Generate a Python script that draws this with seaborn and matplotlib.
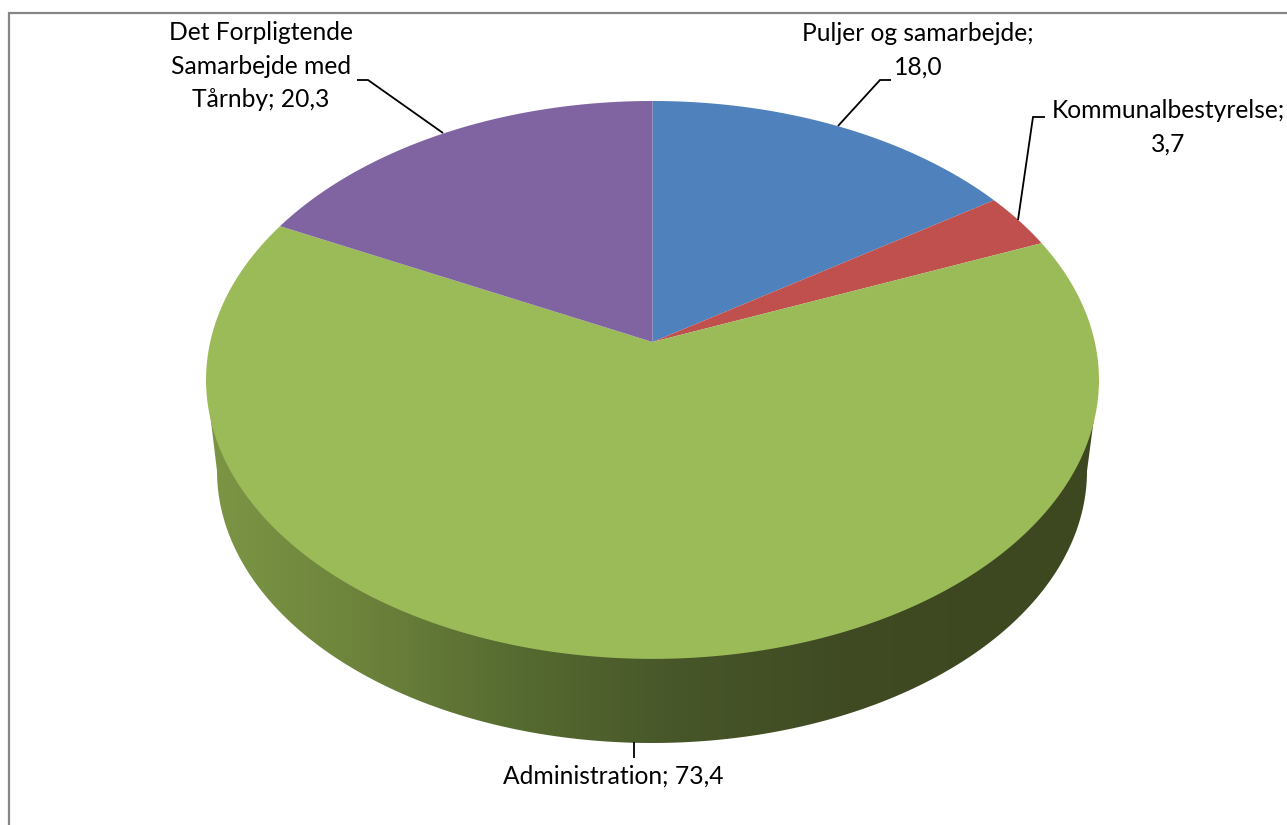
import numpy as np
import matplotlib
matplotlib.use("Agg")
import matplotlib.pyplot as plt
import seaborn as sns
from matplotlib.colors import LinearSegmentedColormap
from matplotlib.patches import PathPatch
from matplotlib.path import Path
from matplotlib.transforms import Transform, Affine2D

categories = ["Puljer og samarbejde", "Kommunalbestyrelse", "Administration", "Det Forpligtende Samarbejde med Tårnby"]
values = [18.0, 3.7, 73.4, 20.3]
value_labels = ["18,0", "3,7", "73,4", "20,3"]
colors = ["#4F81BD", "#C0504D", "#9BBB59", "#8064A2"]
side_stops = [(0.0, "#7C9645"), (0.18, "#6C823B"), (0.355, "#556A30"), (0.53, "#475629"),
              (0.71, "#404B23"), (0.89, "#3D4820"), (1.0, "#3D4820")]

sns.set_theme(style="white")
plt.rcParams["font.family"] = ["Lato", "DejaVu Sans"]

W, H = 1287, 825
CX, CY, A, B, K = 652.5, 342.0, 442.3, 273.8, 0.136


class PerspectivePie(Transform):
    input_dims = 2
    output_dims = 2
    has_inverse = False

    def transform_non_affine(self, xy):
        xy = np.asarray(xy, float)
        d = 1 + K * xy[:, 1]
        return np.column_stack([CX + A * xy[:, 0] / d, CY - B * xy[:, 1] / d])

    def transform_path_non_affine(self, path):
        polys = path.transformed(Affine2D().scale(2000)).to_polygons(closed_only=True)
        return Path(self.transform_non_affine(np.concatenate(polys) / 2000))


fig = plt.figure(figsize=(W / 100, H / 100), dpi=100, facecolor="white")
ax = fig.add_axes([0, 0, 1, 1])
wedges, _ = ax.pie(values, colors=colors, startangle=90, counterclock=False, radius=1)
ax.set_aspect("auto")
ax.axis("off")

persp = PerspectivePie()
for w in wedges:
    w.set_transform(persp + ax.transData)
    w.set_edgecolor("none")
    w.set_linewidth(0)
    w.set_zorder(3)

# side wall of the disc: hull of lower ellipse and the rim's extremes
t = np.linspace(0, 2 * np.pi, 361)
ell = np.column_stack([652 + 435 * np.cos(t), 471 + 272 * np.sin(t)])
quad = np.array([[206, 380], [1099, 380], [1087, 471], [217, 471], [206, 380]], float)
side_path = Path.make_compound_path(Path(ell, closed=False), Path(quad, closed=True))
clip = PathPatch(side_path, transform=ax.transData, facecolor="none", edgecolor="none")
ax.add_patch(clip)
cmap = LinearSegmentedColormap.from_list("side", side_stops)
im = ax.imshow(np.linspace(0, 1, 512)[None, :], cmap=cmap, extent=(206, 1100, 760, 370),
               aspect="auto", zorder=2, interpolation="bilinear")
im.set_clip_path(clip)
ax.set_xlim(0, W)
ax.set_ylim(H, 0)

# chart frame: only the top and left edges fall inside the picture
ax.plot([9, 9, W], [H, 12.5, 12.5], color="#868686", lw=1.6, zorder=1, solid_joinstyle="miter")

# leader lines
leaders = [
    ([891, 880, 838], [80, 80, 126]),
    ([1045, 1033, 1018], [117, 117, 220]),
    ([634, 634], [742, 758]),
    ([357, 368, 443], [80, 80, 133]),
]
for xs, ys in leaders:
    ax.plot(xs, ys, color="black", lw=1.3, zorder=4, solid_capstyle="butt", solid_joinstyle="miter")

# labels
fs = 17.7
ls = 1.55
ax.text(918, 50, f"{categories[0]};\n{value_labels[0]}", ha="center", va="center", fontsize=fs, color="black", linespacing=ls)
ax.text(1168, 127, f"{categories[1]};\n{value_labels[1]}", ha="center", va="center", fontsize=fs, color="black", linespacing=ls)
ax.text(613, 776, f"{categories[2]}; {value_labels[2]}", ha="center", va="center", fontsize=fs, color="black")
ax.text(261, 66, f"Det Forpligtende\nSamarbejde med\nTårnby; {value_labels[3]}", ha="center", va="center", fontsize=fs, color="black", linespacing=ls)

fig.savefig("out.png", dpi=100, facecolor="white")
